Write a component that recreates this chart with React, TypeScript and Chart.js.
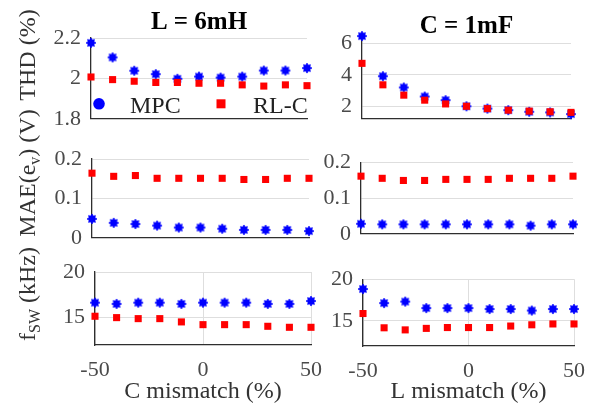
import React, { useEffect, useRef } from 'react';
import { Chart, registerables } from 'chart.js';

Chart.register(...registerables);

// ---------------- data ----------------
const mismatch = [-50, -40, -30, -20, -10, 0, 10, 20, 30, 40, 50];
const xTickValues = [-50, 0, 50];
const seriesNames = ['MPC', 'RL-C'];
const columnTitles = ['L = 6mH', 'C = 1mF'];
const xAxisTitles = ['C mismatch (%)', 'L mismatch (%)'];

// C mismatch column (L = 6mH)
const thdC_MPC = [2.176, 2.104, 2.038, 2.021, 1.998, 2.009, 2.004, 2.009, 2.039, 2.039, 2.051];
const thdC_RLC = [2.007, 1.994, 1.986, 1.98, 1.98, 1.976, 1.976, 1.968, 1.962, 1.968, 1.964];
const maeC_MPC = [0.048, 0.038, 0.035, 0.031, 0.026, 0.026, 0.023, 0.02, 0.02, 0.02, 0.017];
const maeC_RLC = [0.164, 0.156, 0.158, 0.151, 0.151, 0.151, 0.151, 0.148, 0.148, 0.151, 0.151];
const fswC_MPC = [16.64, 16.5, 16.64, 16.64, 16.5, 16.64, 16.64, 16.64, 16.5, 16.5, 16.82];
const fswC_RLC = [15.15, 15.0, 14.89, 14.89, 14.53, 14.23, 14.23, 14.23, 14.05, 13.94, 13.94];

// L mismatch column (C = 1mF)
const thdL_MPC = [6.48, 3.92, 3.2, 2.62, 2.39, 2.0, 1.85, 1.75, 1.65, 1.61, 1.5];
const thdL_RLC = [4.74, 3.37, 2.71, 2.39, 2.15, 2.0, 1.85, 1.75, 1.69, 1.65, 1.61];
const maeL_MPC = [0.028, 0.0265, 0.0265, 0.0265, 0.0265, 0.0265, 0.0265, 0.0265, 0.0227, 0.0265, 0.0265];
const maeL_RLC = [0.161, 0.155, 0.149, 0.149, 0.152, 0.152, 0.152, 0.155, 0.155, 0.155, 0.161];
const fswL_MPC = [18.82, 17.14, 17.32, 16.54, 16.54, 16.54, 16.43, 16.43, 16.25, 16.43, 16.43];
const fswL_RLC = [15.89, 14.18, 13.93, 14.11, 14.21, 14.21, 14.21, 14.39, 14.54, 14.64, 14.64];

// y tick labels
const thdCTicks = [1.8, 2, 2.2];
const thdLTicks = [2, 4, 6];
const maeTicks = [0, 0.1, 0.2];
const fswTicks = [15, 20];

// y axis labels (runs, sub = subscript)
const thdLabel = [{ text: 'THD (%)' }];
const maeLabel = [{ text: 'MAE(e' }, { text: 'v', sub: true }, { text: ') (V)' }];
const fswLabel = [{ text: 'f' }, { text: 'SW', sub: true }, { text: ' (kHz)' }];

// ---------------- styles ----------------
const SERIF = "'Liberation Serif', 'Times New Roman', Times, serif";
const GRID = '#dedede';
const AXIS = '#2e2e2e';
const TICK_COLOR = '#4a4a4a';
const LABEL_COLOR = '#333333';
const BLUE = '#0000ff';
const RED = '#ff0000';

type Run = { text: string; sub?: boolean };
type PanelSpec = {
  key: string;
  col: 0 | 1;
  row: 0 | 1 | 2;
  area: { l: number; t: number; r: number; b: number };
  topPad: number;
  mpc: number[];
  rlc: number[];
  yMin: number;
  yMax: number;
  yTicks: number[];
  yLabel?: Run[];
  yLabelCenter?: number;
};

const panels: PanelSpec[] = [
  { key: 'tl', col: 0, row: 0, area: { l: 91, t: 38, r: 307, b: 128 }, topPad: 0, mpc: thdC_MPC, rlc: thdC_RLC, yMin: 1.8, yMax: 2.2, yTicks: thdCTicks, yLabel: thdLabel, yLabelCenter: 55 },
  { key: 'ml', col: 0, row: 1, area: { l: 92, t: 159, r: 309, b: 247 }, topPad: 62, mpc: maeC_MPC, rlc: maeC_RLC, yMin: 0, yMax: 0.2, yTicks: maeTicks, yLabel: maeLabel, yLabelCenter: 173 },
  { key: 'bl', col: 0, row: 2, area: { l: 95, t: 272, r: 318, b: 345 }, topPad: 32, mpc: fswC_MPC, rlc: fswC_RLC, yMin: 12, yMax: 20, yTicks: fswTicks, yLabel: fswLabel, yLabelCenter: 294 },
  { key: 'tr', col: 1, row: 0, area: { l: 362, t: 35, r: 571, b: 128 }, topPad: 0, mpc: thdL_MPC, rlc: thdL_RLC, yMin: 1.2, yMax: 6.55, yTicks: thdLTicks },
  { key: 'mr', col: 1, row: 1, area: { l: 361, t: 155, r: 573, b: 243 }, topPad: 16, mpc: maeL_MPC, rlc: maeL_RLC, yMin: 0, yMax: 0.2, yTicks: maeTicks },
  { key: 'br', col: 1, row: 2, area: { l: 363, t: 272, r: 581, b: 346 }, topPad: 16, mpc: fswL_MPC, rlc: fswL_RLC, yMin: 12, yMax: 20, yTicks: fswTicks },
];

const PAGE_H = 405;
const RIGHT_PAD = 16;
const BOTTOM_PAD = 14;
const RIGHT_COL_YW = 60;
const TITLE_SIZE = 25;
const titlePadding: Record<number, { top: number; bottom: number }> = {
  0: { top: 10, bottom: 3 },
  1: { top: 14.5, bottom: -4.5 },
};

function makeMpcMarker(color: string): HTMLCanvasElement {
  const c = document.createElement('canvas');
  c.width = 12;
  c.height = 12;
  const g = c.getContext('2d')!;
  g.translate(6, 6);
  g.fillStyle = color;
  g.beginPath();
  g.arc(0, 0, 3.7, 0, Math.PI * 2);
  g.fill();
  g.strokeStyle = color;
  g.lineWidth = 1.5;
  for (let k = 0; k < 4; k++) {
    const a = (k * Math.PI) / 4;
    g.beginPath();
    g.moveTo(-5 * Math.cos(a), -5 * Math.sin(a));
    g.lineTo(5 * Math.cos(a), 5 * Math.sin(a));
    g.stroke();
  }
  return c;
}

function geometry(p: PanelSpec) {
  const hasTitle = p.row === 0;
  const isBottom = p.row === 2;
  const x = p.col === 0 ? 0 : p.area.l - RIGHT_COL_YW;
  const yw = p.area.l - x;
  const y = hasTitle ? 0 : p.area.t - p.topPad;
  const w = p.area.r - x + RIGHT_PAD;
  const h = isBottom ? PAGE_H - y : p.area.b - y + BOTTOM_PAD;
  const xh = isBottom ? PAGE_H - p.area.b : 0;
  return { x, y, w, h, yw, xh, hasTitle, isBottom };
}

const legendPlugin = {
  id: 'insideLegend',
  afterDatasetsDraw(chart: any) {
    const { ctx, chartArea } = chart;
    const { left, bottom } = chartArea;
    const ds = chart.data.datasets;
    const mpc = ds.find((d: any) => d.label === seriesNames[0]);
    const rlc = ds.find((d: any) => d.label === seriesNames[1]);
    ctx.save();
    ctx.fillStyle = mpc.backgroundColor;
    ctx.beginPath();
    ctx.arc(left + 8, bottom - 15, 5.8, 0, Math.PI * 2);
    ctx.fill();
    ctx.fillStyle = rlc.backgroundColor;
    ctx.fillRect(left + 130 - 4.5, bottom - 15 - 4.5, 9, 9);
    ctx.font = `24px ${SERIF}`;
    ctx.fillStyle = '#222222';
    ctx.textBaseline = 'alphabetic';
    ctx.textAlign = 'left';
    ctx.fillText(mpc.label, left + 39, bottom - 6);
    ctx.fillText(rlc.label, left + 162, bottom - 6);
    ctx.restore();
  },
};

function makeYLabelPlugin(runs: Run[] | undefined, centerY: number, offX: number, offY: number) {
  return {
    id: 'yLabelRuns',
    afterDraw(chart: any) {
      if (!runs) return;
      const ctx = chart.ctx;
      ctx.save();
      ctx.translate(35 - offX, centerY - offY);
      ctx.rotate(-Math.PI / 2);
      ctx.fillStyle = LABEL_COLOR;
      ctx.textBaseline = 'alphabetic';
      ctx.textAlign = 'left';
      let total = 0;
      const widths = runs.map((r) => {
        ctx.font = `${r.sub ? 16 : 24}px ${SERIF}`;
        const wv = ctx.measureText(r.text).width;
        total += wv;
        return wv;
      });
      let u = -total / 2;
      runs.forEach((r, i) => {
        ctx.font = `${r.sub ? 16 : 24}px ${SERIF}`;
        ctx.fillText(r.text, u, r.sub ? 5 : 0);
        u += widths[i];
      });
      ctx.restore();
    },
  };
}

function PanelChart({ p }: { p: PanelSpec }) {
  const ref = useRef<HTMLCanvasElement>(null);
  const g = geometry(p);

  useEffect(() => {
    const marker = makeMpcMarker(BLUE);
    const tickFont = { family: SERIF, size: 22 };
    const plugins: any[] = [makeYLabelPlugin(p.yLabel, p.yLabelCenter || 0, g.x, g.y)];
    if (p.key === 'tl') plugins.push(legendPlugin);

    const chart = new Chart(ref.current!, {
      type: 'scatter',
      data: {
        datasets: [
          {
            label: seriesNames[0],
            data: mismatch.map((x, i) => ({ x, y: p.mpc[i] })),
            pointStyle: marker as any,
            pointRadius: 5,
            backgroundColor: BLUE,
            borderColor: BLUE,
            order: 1,
            clip: false as any,
          },
          {
            label: seriesNames[1],
            data: mismatch.map((x, i) => ({ x, y: p.rlc[i] })),
            pointStyle: 'rect',
            pointRadius: 5,
            borderWidth: 0,
            backgroundColor: RED,
            borderColor: RED,
            order: 0,
            clip: false as any,
          },
        ],
      },
      options: {
        responsive: false,
        animation: false,
        devicePixelRatio: 1,
        events: [],
        layout: {
          padding: {
            left: 0,
            right: RIGHT_PAD,
            top: g.hasTitle ? 0 : p.topPad,
            bottom: g.isBottom ? 0 : BOTTOM_PAD,
          },
        },
        plugins: {
          legend: { display: false },
          tooltip: { enabled: false },
          title: {
            display: g.hasTitle,
            text: columnTitles[p.col],
            fullSize: false,
            color: '#000000',
            font: { family: SERIF, size: TITLE_SIZE, weight: 'bold', lineHeight: 1 },
            padding: titlePadding[p.col],
          },
        },
        scales: {
          x: {
            type: 'linear',
            position: 'bottom',
            min: -50,
            max: 50,
            afterBuildTicks: (s: any) => {
              s.ticks = xTickValues.map((v) => ({ value: v }));
            },
            afterFit: (s: any) => {
              s.height = g.xh;
            },
            grid: { display: g.isBottom, color: GRID, lineWidth: 1, drawTicks: false },
            border: { display: true, color: AXIS, width: 1.3 },
            ticks: {
              display: g.isBottom,
              padding: 12,
              font: tickFont,
              color: TICK_COLOR,
              maxRotation: 0,
              callback: (v: any) => String(v),
            },
            title: {
              display: g.isBottom,
              text: xAxisTitles[p.col],
              color: LABEL_COLOR,
              font: { family: SERIF, size: 24, lineHeight: 1 },
              padding: { top: 0, bottom: 1 },
            },
          },
          y: {
            type: 'linear',
            position: 'left',
            min: p.yMin,
            max: p.yMax,
            afterBuildTicks: (s: any) => {
              s.ticks = p.yTicks.map((v) => ({ value: v }));
            },
            afterFit: (s: any) => {
              s.width = g.yw;
            },
            grid: { color: GRID, lineWidth: 1, drawTicks: false },
            border: { display: true, color: AXIS, width: 1.3 },
            ticks: {
              padding: 10,
              font: tickFont,
              color: TICK_COLOR,
              callback: (v: any) => String(v),
            },
          },
        },
      } as any,
      plugins,
    });
    return () => chart.destroy();
  }, []);

  return (
    <canvas
      ref={ref}
      width={g.w}
      height={g.h}
      style={{ position: 'absolute', left: g.x, top: g.y, width: g.w, height: g.h }}
    />
  );
}

export default function App() {
  return (
    <div
      style={{
        position: 'absolute',
        left: 0,
        top: 0,
        width: 597,
        height: 405,
        overflow: 'hidden',
        background: '#ffffff',
      }}
    >
      {panels.map((p) => (
        <PanelChart key={p.key} p={p} />
      ))}
    </div>
  );
}
